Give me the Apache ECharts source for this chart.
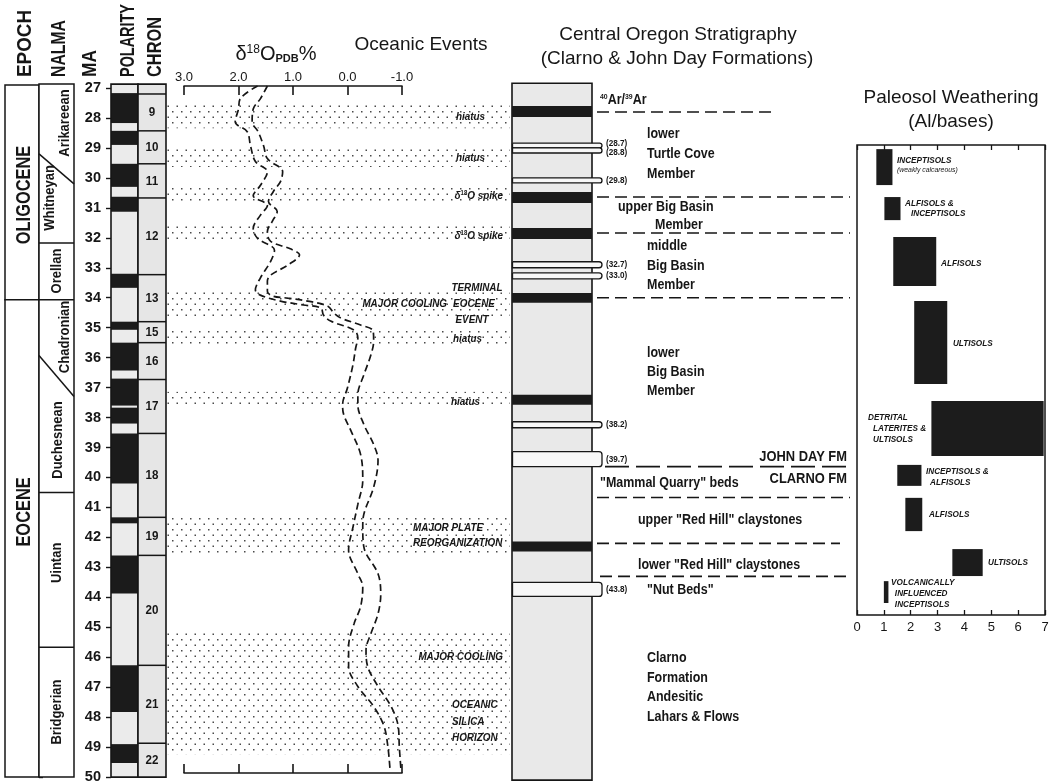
<!DOCTYPE html>
<html><head><meta charset="utf-8">
<script src="https://cdn.jsdelivr.net/npm/echarts@6/dist/echarts.min.js"></script>
<style>html,body{margin:0;padding:0;background:#fff}#c{width:1050px;height:784px}</style>
</head><body><div id="c"></div><script>
// ================= DATA =================
const epochs = [['OLIGOCENE', 26.9, 34.07, 30.57], ['EOCENE', 34.07, 50, 41.15]];
const nalmaBoundaries = [[29.2, 30.2], [32.17, 32.17], [34.07, 34.07], [35.93, 37.3], [40.5, 40.5], [45.67, 45.67]];
const nalmaNames = ['Arikareean', 'Whitneyan', 'Orellan', 'Chadronian', 'Duchesnean', 'Uintan', 'Bridgerian'];
const nalmaLabelMa = [28.17, 30.67, 33.11, 35.31, 38.75, 42.85, 47.83];
const polarityNormal = [[27.17, 28.17], [28.43, 28.9], [29.53, 30.3], [30.63, 31.13], [33.2, 33.67], [34.8, 35.07],
  [35.5, 36.43], [36.7, 37.6], [37.67, 38.2], [38.53, 40.2], [41.33, 41.53], [42.6, 43.87], [46.27, 47.83], [48.9, 49.53]];
const chrons = [['9', 27.2, 28.43], ['10', 28.43, 29.53], ['11', 29.53, 30.67], ['12', 30.67, 33.23], ['13', 33.23, 34.8],
  ['15', 34.8, 35.5], ['16', 35.5, 36.73], ['17', 36.73, 38.53], ['18', 38.53, 41.33], ['19', 41.33, 42.6],
  ['20', 42.6, 46.27], ['21', 46.27, 48.87], ['22', 48.87, 50]];
// delta 18O envelope: [Ma, permil]
const d18oHigh = [[27.0,1.65],[27.43,1.97],[27.77,2.0],[28.2,2.06],[28.53,1.84],[29.0,1.78],[29.53,1.69],[29.87,1.47],
  [30.33,1.6],[30.67,1.73],[31.0,1.47],[31.33,1.6],[31.77,1.73],[32.1,1.65],[32.5,1.34],[32.87,1.41],[33.43,1.6],
  [33.83,1.69],[34.0,1.6],[34.2,1.23],[34.33,0.81],[34.43,0.49],[34.67,0.44],[34.87,0.31],[35.17,-0.12],[35.43,-0.19],
  [35.77,-0.15],[36.33,-0.1],[37.1,0.0],[37.67,0.09],[38.0,0.07],[38.53,-0.06],[39.33,-0.24],[40.2,-0.28],[41.0,-0.19],
  [41.77,-0.1],[42.53,-0.02],[43.33,-0.19],[43.77,-0.28],[44.43,-0.24],[45.0,-0.12],[45.77,-0.02],[46.43,-0.02],
  [47.1,-0.19],[47.77,-0.48],[48.43,-0.67],[49.1,-0.74],[49.87,-0.78]];
const d18oLow = [[27.0,1.47],[27.43,1.6],[27.77,1.73],[28.2,1.75],[28.53,1.64],[29.0,1.54],[29.43,1.47],[29.87,1.19],
  [30.2,1.23],[30.53,1.36],[30.87,1.45],[31.2,1.29],[31.53,1.38],[31.87,1.47],[32.2,1.41],[32.45,1.05],[32.65,0.88],
  [33.0,1.1],[33.33,1.41],[33.53,1.47],[33.87,1.47],[34.03,1.38],[34.1,1.1],[34.2,0.73],[34.37,0.36],[34.6,0.25],
  [34.77,0.12],[35.0,-0.24],[35.2,-0.47],[35.53,-0.48],[36.0,-0.43],[36.67,-0.3],[37.33,-0.19],[37.67,-0.19],
  [38.33,-0.3],[39.0,-0.48],[39.53,-0.56],[40.43,-0.48],[41.33,-0.3],[41.77,-0.28],[42.43,-0.3],[43.33,-0.56],
  [44.0,-0.61],[44.67,-0.56],[45.33,-0.43],[45.87,-0.34],[46.43,-0.37],[47.1,-0.56],[47.77,-0.8],[48.43,-0.93],
  [49.1,-0.95],[49.87,-0.98]];
const d18oTicks = [3, 2, 1, 0, -1];
const eventBands = [[27.5, 28.34], [28.97, 29.64], [30.3, 30.84], [31.57, 32.17], [33.74, 34.64], [35.0, 35.64],
  [37.14, 37.67], [41.3, 42.57], [45.17, 49.24]];
const eventLabels = [['hiatus', 27.97], ['hiatus', 29.34], ['δ18O spike', 30.6], ['δ18O spike', 31.94],
  ['TERMINAL', 33.68], ['MAJOR COOLING', 34.21], ['EOCENE', 34.21], ['EVENT', 34.74], ['hiatus', 35.38],
  ['hiatus', 37.48], ['MAJOR PLATE', 41.69], ['REORGANIZATION', 42.19], ['MAJOR COOLING', 45.99],
  ['OCEANIC', 47.59], ['SILICA', 48.16], ['HORIZON', 48.7]];
const stratBlack = [[27.6, 27.97], [30.47, 30.84], [31.67, 32.04], [33.84, 34.17], [37.24, 37.57], [42.14, 42.47]];
const stratTabs = [['(28.7)', 28.84, 29.0], ['(28.8)', 29.0, 29.17], ['(29.8)', 30.0, 30.17], ['(32.7)', 32.8, 33.0],
  ['(33.0)', 33.17, 33.37], ['(38.2)', 38.14, 38.34], ['(39.7)', 39.14, 39.64], ['(43.8)', 43.5, 43.97]];
const stratContacts = [27.8, 30.64, 31.84, 34.0, 40.67, 42.2, 43.3];
const formationContact = 39.64;
const stratLabels = [['lower', 28.54], ['Turtle Cove', 29.2], ['Member', 29.87], ['upper Big Basin', 30.97],
  ['Member', 31.57], ['middle', 32.27], ['Big Basin', 32.94], ['Member', 33.58], ['lower', 35.85],
  ['Big Basin', 36.48], ['Member', 37.11], ['"Mammal Quarry" beds', 40.18], ['upper "Red Hill" claystones', 41.42],
  ['lower "Red Hill" claystones', 42.92], ['"Nut Beds"', 43.76], ['Clarno', 46.03], ['Formation', 46.69],
  ['Andesitic', 47.33], ['Lahars & Flows', 48.0]];
const formationLabels = [['JOHN DAY FM', 39.32], ['CLARNO FM', 40.05]];
const argonLabelMa = 27.4;
// paleosol weathering bars: [label lines, top Ma, bottom Ma, min Al/bases, max Al/bases]
const paleosols = [
  [['INCEPTISOLS', '(weakly calcareous)'], 29.04, 30.24, 0.72, 1.32],
  [['ALFISOLS &', 'INCEPTISOLS'], 30.64, 31.41, 1.02, 1.62],
  [['ALFISOLS'], 31.97, 33.61, 1.35, 2.95],
  [['ULTISOLS'], 34.11, 36.88, 2.13, 3.36],
  [['DETRITAL', 'LATERITES &', 'ULTISOLS'], 37.45, 39.28, 2.77, 6.95],
  [['INCEPTISOLS &', 'ALFISOLS'], 39.58, 40.28, 1.5, 2.4],
  [['ALFISOLS'], 40.68, 41.79, 1.8, 2.43],
  [['ULTISOLS'], 42.39, 43.29, 3.55, 4.68],
  [['VOLCANICALLY', 'INFLUENCED', 'INCEPTISOLS'], 43.46, 44.19, 1.0, 1.17]];
const paleoTicks = [0, 1, 2, 3, 4, 5, 6, 7];

// ================= LAYOUT / STYLE =================
const TOP = 88, PXMA = 29.96, H = 23 * PXMA;
const maAt = y => 27 + (y - TOP) / PXMA;
const SANS = "'Liberation Sans',Arial,Helvetica,sans-serif";
const INK = '#161616';
const NX = 0.86; // horizontal squeeze emulating a condensed face
const COL_TOP = 26.87, COL_BOT = 50;
const nalmaLabelX = [0.74, 0.31, 0.51, 0.74, 0.54, 0.51, 0.51];
const eventLabelPos = [[318,'right'],[318,'right'],[336,'right'],[336,'right'],[310,'center'],[280,'right'],
  [307,'center'],[305,'center'],[315,'right'],[313,'right'],[246,'left'],[246,'left'],[336,'right'],
  [285,'left'],[285,'left'],[285,'left']];
const stratLabelX = [135,135,135,106,143,135,135,135,135,135,135,88,126,126,135,135,135,135,135];
const stratTabLabelShift = [-0.08, 0.05, 0, 0, 0, 0, 0, 0];
const contactSpan = [[85,261],[85,338],[85,338],[85,338],[85,338],[85,328],[88,338]];
const paleoLabelPos = [[[1.49,0],[1.49,0.34]],[[1.79,0],[2.01,0.36]],[[3.13,0]],[[3.57,0]],
  [[0.41,0],[0.6,0.37],[0.6,0.74]],[[2.57,0],[2.72,0.37]],[[2.68,0]],[[4.88,0]],[[1.27,0],[1.41,0.37],[1.41,0.74]]];
const paleoLabelMa = [29.4, 30.84, 32.84, 35.51, 37.98, 39.78, 41.22, 42.85, 43.49];

const mctx = document.createElement('canvas').getContext('2d');
function fitScale(text, fs, target) { mctx.font = 'bold ' + fs + 'px ' + SANS; return target / mctx.measureText(text).width; }

function R(api, x0, y0, x1, y1) {
  const a = api.coord([x0, y0]), b = api.coord([x1, y1]);
  return {x: Math.min(a[0], b[0]), y: Math.min(a[1], b[1]), width: Math.abs(b[0] - a[0]), height: Math.abs(b[1] - a[1])};
}
function T(api, x, y, text, st, extra) {
  const p = api.coord([x, y]);
  return Object.assign({type: 'text', x: p[0], y: p[1], scaleX: NX, style: Object.assign({text: text, fill: INK}, st)}, extra || {});
}
function L(api, x0, y0, x1, y1, st) {
  const a = api.coord([x0, y0]), b = api.coord([x1, y1]);
  return {type: 'line', shape: {x1: a[0], y1: a[1], x2: b[0], y2: b[1]}, style: Object.assign({stroke: INK, lineWidth: 1.5}, st || {})};
}
function dotCanvas() {
  const c = document.createElement('canvas'); c.width = 9; c.height = 11;
  const g = c.getContext('2d'); g.fillStyle = '#4a4a4a';
  g.fillRect(1, 1, 1.5, 1.5); g.fillRect(5.5, 6.5, 1.5, 1.5);
  return c;
}
const DOTS = dotCanvas();
const B = (fs, more) => Object.assign({fontSize: fs, fontWeight: 'bold', fontFamily: SANS}, more || {});

const gridBase = {outerBoundsMode: 'none', containLabel: false};
const grids = [
  {left: 5, width: 34, top: TOP, height: H},
  {left: 39, width: 35, top: TOP, height: H},
  {left: 111, width: 27, top: TOP, height: H},
  {left: 138, width: 28, top: TOP, height: H},
  {left: 184, width: 218, top: TOP - 2, height: H - 2},
  {left: 167, width: 343, top: TOP, height: H},
  {left: 512, width: 340, top: TOP, height: H},
  {left: 857, width: 188, top: 145, height: 470, show: true, borderColor: INK, borderWidth: 1.5, backgroundColor: 'transparent'}
].map(g => Object.assign({}, gridBase, g));

const hidX = (gi, max) => ({type: 'value', gridIndex: gi, min: 0, max: max, show: false});
const hidY = (gi, extra) => Object.assign({type: 'value', gridIndex: gi, min: 27, max: 50, inverse: true, show: false}, extra || {});
const d18oAxisCommon = {type: 'value', gridIndex: 4, min: -1, max: 3, interval: 1, inverse: true,
  axisLine: {show: true, lineStyle: {color: INK, width: 1.6}},
  axisTick: {show: true, inside: true, length: 9, lineStyle: {color: INK, width: 1.6}},
  splitLine: {show: false}};
const paleoAxisCommon = {type: 'value', gridIndex: 7, min: 0, max: 7, interval: 1,
  axisLine: {show: false}, axisTick: {show: true, inside: true, length: 5, lineStyle: {color: INK, width: 1.3}},
  splitLine: {show: false}};

const xAxis = [
  hidX(0, 1), hidX(1, 1), hidX(2, 1), hidX(3, 1),
  Object.assign({}, d18oAxisCommon, {position: 'top',
    axisLabel: {show: true, margin: 2, fontSize: 13, fontFamily: SANS, color: INK,
      formatter: v => (d18oTicks.indexOf(v) >= 0 ? v.toFixed(1) : '')}}),
  Object.assign({}, d18oAxisCommon, {position: 'bottom', axisLabel: {show: false}}),
  hidX(5, 343), hidX(6, 340),
  Object.assign({}, paleoAxisCommon, {position: 'bottom',
    axisLabel: {show: true, margin: 6, fontSize: 13, fontFamily: SANS, color: INK,
      formatter: v => (paleoTicks.indexOf(v) >= 0 ? String(v) : '')}}),
  Object.assign({}, paleoAxisCommon, {position: 'top', axisLabel: {show: false}})
];
const yAxis = [
  hidY(0),
  hidY(1, {show: true, position: 'right', interval: 1, axisLine: {show: false}, axisLabel: {show: false},
    axisTick: {show: true, length: 4, lineStyle: {color: INK, width: 1.4}}, splitLine: {show: false}}),
  hidY(2, {show: true, position: 'left', interval: 1, axisLine: {show: false}, splitLine: {show: false},
    axisTick: {show: true, length: 5, lineStyle: {color: INK, width: 1.4}},
    axisLabel: {show: true, margin: 10, fontSize: 14.5, fontWeight: 'bold', fontFamily: SANS, color: INK}}),
  hidY(3), hidY(4), hidY(5), hidY(6),
  {type: 'value', gridIndex: 7, min: maAt(145), max: maAt(615), inverse: true, show: false}
];

const cs = (xi, yi, render, z) => ({type: 'custom', coordinateSystem: 'cartesian2d', xAxisIndex: xi, yAxisIndex: yi,
  data: [[0, 27]], renderItem: render, silent: true, z: z || 2, clip: false, animation: false});

const series = [];
// Epoch
series.push(cs(0, 0, (p, api) => {
  const ch = [];
  epochs.forEach(([name, a, b, lm]) => {
    ch.push({type: 'rect', shape: R(api, 0, a, 1, b), style: {fill: '#fff', stroke: INK, lineWidth: 1.5}});
    ch.push(T(api, 0.58, lm, name, B(20, {align: 'center', verticalAlign: 'middle'}), {rotation: Math.PI / 2, scaleX: 0.82}));
  });
  return {type: 'group', children: ch};
}));
// NALMA
series.push(cs(1, 1, (p, api) => {
  const ch = [{type: 'rect', shape: R(api, 0, COL_TOP, 1, COL_BOT), style: {fill: '#fff', stroke: INK, lineWidth: 1.5}}];
  nalmaBoundaries.forEach(([a, b]) => ch.push(L(api, 0, a, 1, b)));
  nalmaNames.forEach((n, i) => ch.push(T(api, nalmaLabelX[i], nalmaLabelMa[i], n,
    B(15.5, {align: 'center', verticalAlign: 'middle'}), {rotation: Math.PI / 2, scaleX: 0.84})));
  return {type: 'group', children: ch};
}));
// Polarity
series.push(cs(2, 2, (p, api) => {
  const ch = [{type: 'rect', shape: R(api, 0, COL_TOP, 1, COL_BOT), style: {fill: '#ebebeb', stroke: 'none'}}];
  polarityNormal.forEach(([a, b]) => ch.push({type: 'rect', shape: R(api, 0, a, 1, b), style: {fill: '#1b1b1b'}}));
  ch.push({type: 'rect', shape: R(api, 0, COL_TOP, 1, COL_BOT), style: {fill: 'none', stroke: INK, lineWidth: 1.6}});
  return {type: 'group', children: ch};
}));
// Chron
series.push(cs(3, 3, (p, api) => {
  const ch = [{type: 'rect', shape: R(api, 0, COL_TOP, 1, COL_BOT), style: {fill: '#e6e6e6', stroke: INK, lineWidth: 1.6}}];
  chrons.forEach(([n, a, b]) => {
    ch.push(L(api, 0, a, 1, a));
    ch.push(T(api, 0.5, (a + b) / 2, n, B(13.5, {align: 'center', verticalAlign: 'middle'})));
  });
  return {type: 'group', children: ch};
}));
// Oceanic events bands + labels
series.push(cs(6, 5, (p, api) => {
  const ch = [];
  eventBands.forEach(([a, b]) => ch.push({type: 'rect', shape: R(api, 0, a, 343, b), style: {fill: {image: DOTS, repeat: 'repeat'}}}));
  const st = B(11.5, {fontStyle: 'italic', verticalAlign: 'middle'});
  eventLabels.forEach(([t, ma], i) => {
    const pos = eventLabelPos[i];
    if (t.indexOf('δ18O') === 0) {
      const rst = Object.assign({}, st, {align: pos[1],
        rich: {a: B(11.5, {fontStyle: 'italic', fill: INK}), s: B(7, {verticalAlign: 'top', fill: INK})}});
      ch.push(T(api, pos[0], ma, '{a|δ}{s|18}{a|O spike}', rst, {scaleX: 0.86}));
    } else {
      ch.push(T(api, pos[0], ma, t, Object.assign({}, st, {align: pos[1]}), {scaleX: 0.86}));
    }
  });
  return {type: 'group', children: ch};
}, 1));
// delta 18O curves
[d18oHigh, d18oLow].forEach(arr => series.push({type: 'line', xAxisIndex: 4, yAxisIndex: 4, silent: true,
  data: arr.map(d => [d[1], d[0]]), showSymbol: false, smooth: 0.35, animation: false, z: 3,
  lineStyle: {color: INK, width: 1.7, type: [7, 4]}}));
// Stratigraphy
series.push(cs(7, 6, (p, api) => {
  const ch = [{type: 'rect', shape: R(api, 0, COL_TOP - 0.03, 80, 50.1), style: {fill: '#e9e9e9', stroke: INK, lineWidth: 1.6}}];
  stratBlack.forEach(([a, b]) => ch.push({type: 'rect', shape: R(api, 0, a, 80, b), style: {fill: '#1b1b1b'}}));
  const small = B(9.5, {verticalAlign: 'middle', align: 'left'});
  stratTabs.forEach(([t, a, b], i) => {
    ch.push({type: 'rect', shape: Object.assign(R(api, 0.5, a, 90, b), {r: [0, 3, 3, 0]}), style: {fill: '#f7f7f7', stroke: INK, lineWidth: 1.3}});
    ch.push(T(api, 94, (a + b) / 2 + stratTabLabelShift[i], t, small));
  });
  stratContacts.forEach((ma, i) => ch.push(L(api, contactSpan[i][0], ma, contactSpan[i][1], ma, {lineDash: [12, 6], lineWidth: 1.6})));
  ch.push(L(api, 93, formationContact, 338, formationContact, {lineDash: [24, 7], lineWidth: 1.8}));
  const lab = B(14.5, {verticalAlign: 'middle', align: 'left'});
  stratLabels.forEach(([t, ma], i) => ch.push(T(api, stratLabelX[i], ma, t, lab)));
  formationLabels.forEach(([t, ma]) => ch.push(T(api, 335, ma, t, B(15, {verticalAlign: 'middle', align: 'right'}))));
  ch.push(T(api, 88, argonLabelMa, '{s|40}{a|Ar/}{s|39}{a|Ar}', {verticalAlign: 'middle', align: 'left',
    rich: {a: B(14.5, {fill: INK}), s: B(8, {verticalAlign: 'top', fill: INK})}}));
  return {type: 'group', children: ch};
}));
// Paleosol weathering
series.push(cs(8, 7, (p, api) => {
  const ch = [];
  const st = B(9.5, {fontStyle: 'italic', verticalAlign: 'middle', align: 'left'});
  paleosols.forEach(([lines, a, b, v0, v1], i) => {
    ch.push({type: 'rect', shape: R(api, v0, a, v1, b), style: {fill: '#1c1c1c'}});
    lines.forEach((t, j) => {
      const pos = paleoLabelPos[i][j];
      const s = (t[0] === '(') ? Object.assign({}, st, {fontSize: 8, fontWeight: 'normal'}) : st;
      ch.push(T(api, pos[0], paleoLabelMa[i] + pos[1], t, s));
    });
  });
  return {type: 'group', children: ch};
}));

const vHead = (text, x, target) => ({type: 'text', x: x, y: 77, rotation: Math.PI / 2, scaleX: fitScale(text, 20, target),
  style: {text: text, fontSize: 20, fontWeight: 'bold', fontFamily: SANS, fill: INK, align: 'left', verticalAlign: 'middle'}});
const head = (text, x, y, fs) => ({type: 'text', x: x, y: y,
  style: {text: text, fontSize: fs, fontFamily: SANS, fill: INK, align: 'center', verticalAlign: 'middle'}});
const graphic = [
  vHead('EPOCH', 25.5, 67), vHead('NALMA', 59.5, 57), vHead('MA', 90.5, 27), vHead('POLARITY', 128.5, 73), vHead('CHRON', 155, 60),
  {type: 'text', x: 276, y: 54, style: {text: '{a|δ}{s|18}{a|O}{b|PDB}{a|%}', align: 'center', verticalAlign: 'middle', fill: INK,
    rich: {a: {fontSize: 20, fontFamily: SANS, fill: INK}, s: {fontSize: 12, fontFamily: SANS, verticalAlign: 'top', fill: INK},
           b: {fontSize: 11, fontWeight: 'bold', fontFamily: SANS, verticalAlign: 'bottom', fill: INK}}}},
  head('Oceanic Events', 421, 45, 19),
  head('Central Oregon Stratigraphy', 678, 35, 19),
  head('(Clarno & John Day Formations)', 677, 59, 19),
  head('Paleosol Weathering', 951, 98, 19),
  head('(Al/bases)', 951, 122, 19)
];

const chart = echarts.init(document.getElementById('c'));
chart.setOption({animation: false, backgroundColor: '#fff', grid: grids, xAxis: xAxis, yAxis: yAxis, series: series, graphic: graphic});
</script></body></html>
